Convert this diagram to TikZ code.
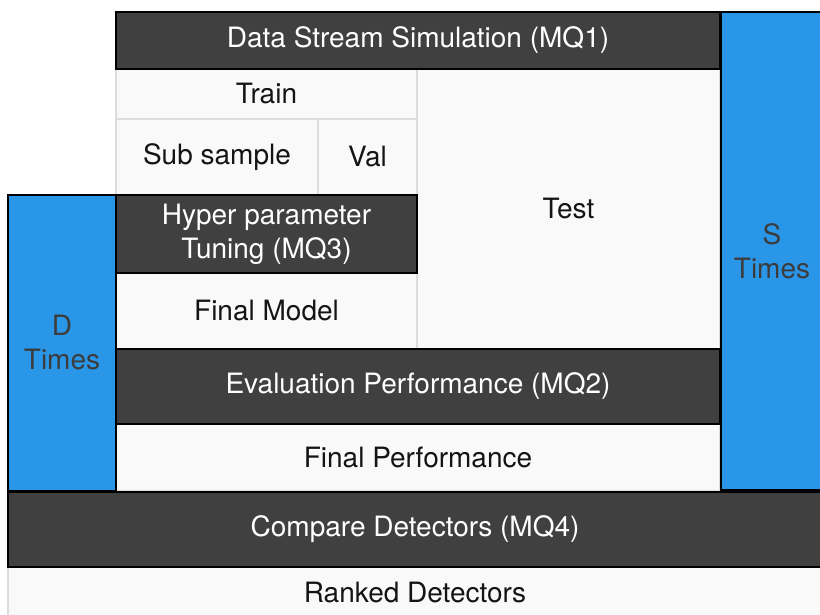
\documentclass[tikz,border=0pt]{standalone}
\usepackage{fontspec}
\setmainfont{TeX Gyre Heros}
\definecolor{darkbg}{HTML}{404040}
\definecolor{lightbg}{HTML}{F9F9F9}
\definecolor{lightline}{HTML}{DCDCDC}
\definecolor{bluebg}{HTML}{2A96E8}
\definecolor{bluetext}{HTML}{3C3C3C}
\begin{document}
\begin{tikzpicture}[x=1pt,y=-1pt,
  cell/.style={rectangle, inner sep=0pt, outer sep=0pt, anchor=north west, align=center,
    font=\fontsize{28}{34}\selectfont},
  lightcell/.style={cell, fill=lightbg, draw=lightline, line width=1.5pt, text=black!92},
  darkcell/.style={cell, fill=darkbg, draw=black, line width=1.2pt, text=white},
  bluecell/.style={cell, fill=bluebg, draw=black, line width=1.2pt, text=bluetext}]
\useasboundingbox[fill=white] (0,0) rectangle (820,615);
% light cells
\node[lightcell, minimum width=301pt, minimum height=50pt] (train) at (116,69) {Train};
\node[lightcell, minimum width=202pt, minimum height=76pt] (sub) at (116,119) {Sub sample};
\node[lightcell, minimum width=99pt, minimum height=76pt] (val) at (318,119) {Val};
\node[lightcell, minimum width=301pt, minimum height=76pt] (fmodel) at (116,273) {Final Model};
\node[lightcell, minimum width=303pt, minimum height=280pt] (test) at (417,69) {Test};
\node[lightcell, minimum width=604pt, minimum height=67pt] (fperf) at (116,424) {Final Performance};
\node[lightcell, minimum width=814pt, minimum height=52pt] (ranked) at (8,567) {Ranked Detectors};
% dark cells
\node[darkcell, minimum width=604pt, minimum height=57pt] (sim) at (116,12) {Data Stream Simulation (MQ1)};
\node[darkcell, minimum width=301pt, minimum height=78pt] (hyper) at (116,195) {Hyper parameter\\Tuning (MQ3)};
\node[darkcell, minimum width=604pt, minimum height=75pt] (eval) at (116,349) {Evaluation Performance (MQ2)};
\node[darkcell, minimum width=814pt, minimum height=75pt] (compare) at (8,492) {Compare Detectors (MQ4)};
% blue cells
\node[bluecell, minimum width=102pt, minimum height=478pt] (stimes) at (721,12) {S\\Times};
\node[bluecell, minimum width=108pt, minimum height=296pt] (dtimes) at (8,195) {D\\Times};
\end{tikzpicture}
\end{document}
